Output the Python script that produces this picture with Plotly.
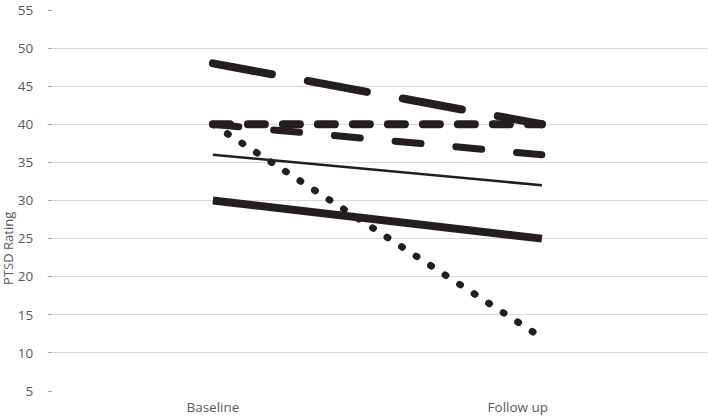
import plotly.graph_objects as go

# data
categories = ["Baseline", "Follow up"]
long_dash = [48, 40]
flat_dash = [40, 40]
short_dash = [40, 36]
thin_solid = [36, 32]
thick_solid = [30, 25]
dotted = [40, 12]

y_ticks = [5, 10, 15, 20, 25, 30, 35, 40, 45, 50, 55]

ink = "#231F20"
x_pos = [0, 1]

fig = go.Figure()

# line styles: (values, width, dash)
series = [
    (dotted, 7, "1px,16.3px"),
    (thick_solid, 8, "solid"),
    (thin_solid, 2.5, "solid"),
    (short_dash, 7, "26px,35px"),
    (flat_dash, 8, "17px,18px"),
    (long_dash, 8, "60px,36.6px"),
]
for vals, w, d in series:
    fig.add_trace(go.Scatter(
        x=x_pos, y=vals, mode="lines",
        line=dict(color=ink, width=w, dash=d),
        showlegend=False, hoverinfo="skip",
    ))

fig.update_layout(
    width=708, height=419,
    margin=dict(l=53, r=0, t=10, b=28),
    paper_bgcolor="white", plot_bgcolor="white",
    font=dict(family="Open Sans", size=13.5, color="#595959"),
    xaxis=dict(
        range=[-0.486, 1.505],
        tickvals=[0, 0.927], ticktext=categories,
        showgrid=False, zeroline=False, showline=False,
        ticks="", ticklabelstandoff=6, automargin=False,
    ),
    yaxis=dict(
        range=[5, 55], tickvals=y_ticks,
        showgrid=True, gridcolor="#D9D9D9", gridwidth=1,
        zeroline=False, showline=False,
        ticks="outside", ticklen=4, tickcolor="#A6A6A6",
        ticklabelstandoff=12, automargin=False,
    ),
    annotations=[dict(
        text="PTSD Rating", textangle=-90,
        xref="paper", yref="paper", x=0, y=0.373,
        xanchor="center", yanchor="middle", xshift=-45,
        showarrow=False, font=dict(size=13, color="#595959"),
    )],
)

# page without body margin + round line caps for the dashed/dotted strokes
js = """
document.body.style.margin = '0';
var gd = document.getElementById('{plot_id}');
gd.querySelectorAll('.scatterlayer path.js-line').forEach(function(p){
  var da = p.style.strokeDasharray;
  if (da && da !== 'none') { p.style.strokeLinecap = 'round'; }
});
"""

fig.write_html("out.html", post_script=js, config={"displayModeBar": False})
